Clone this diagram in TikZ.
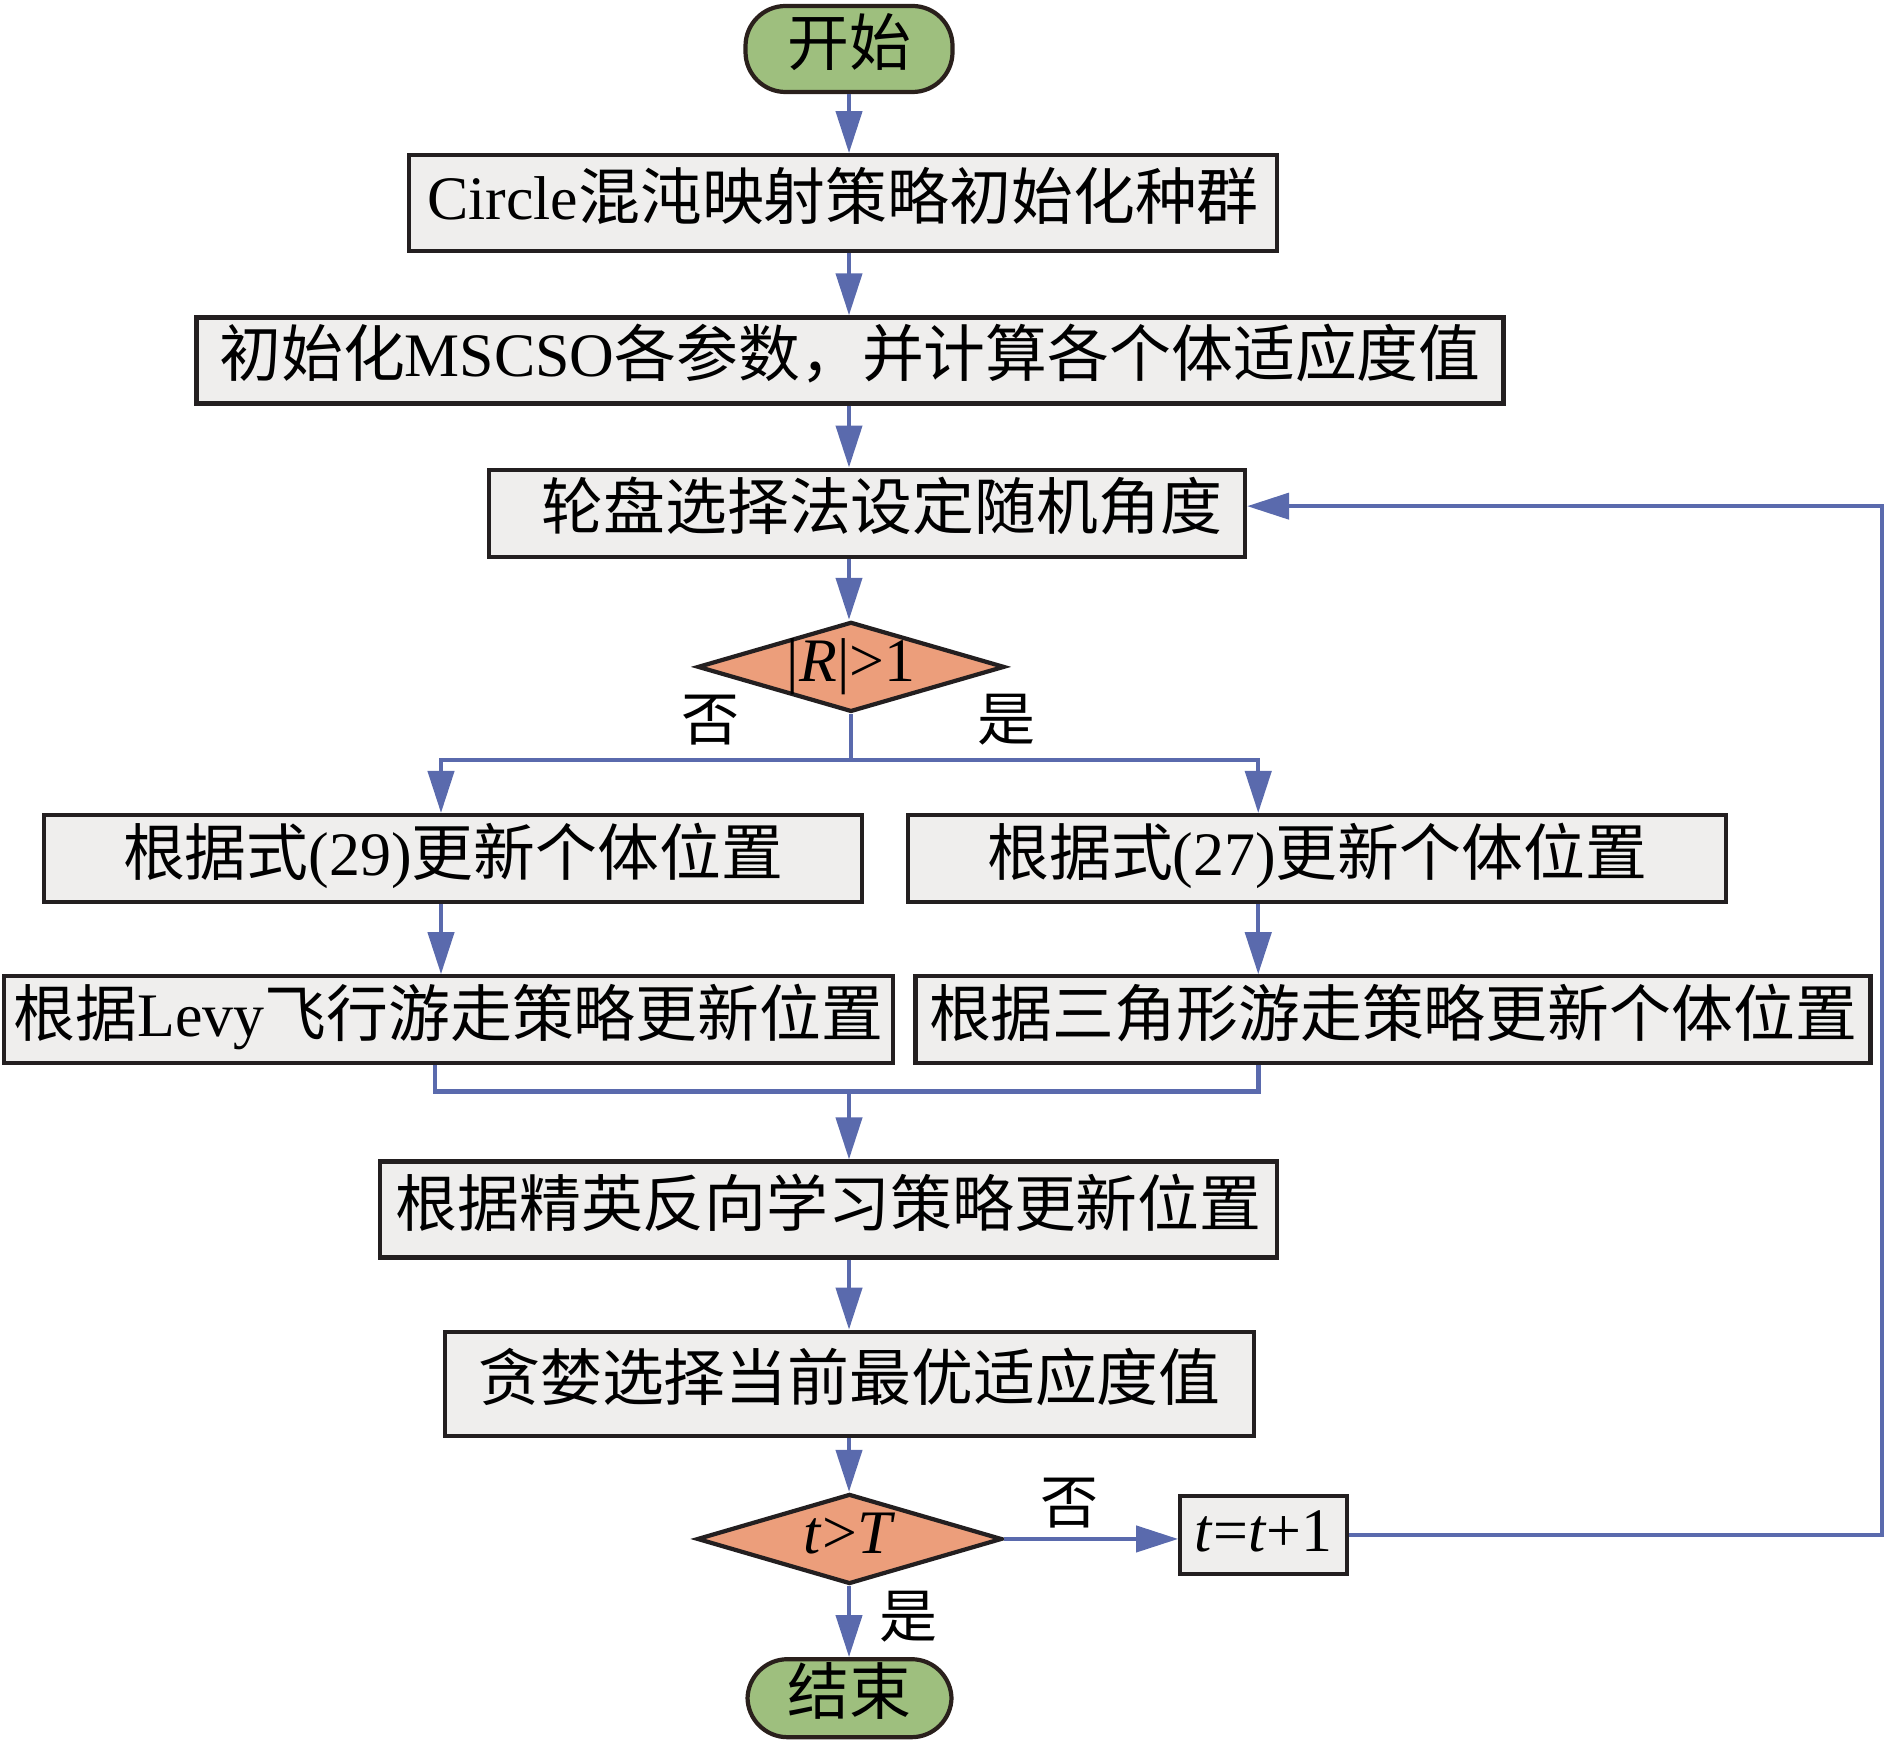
\documentclass[tikz,border=0pt]{standalone}
\usepackage{fontspec}
\setmainfont{Liberation Serif}
\newfontfamily\cjk{Noto Sans CJK SC}
\usepackage{tikz}
\usetikzlibrary{shapes.geometric,arrows.meta,positioning,calc}
\definecolor{flowblue}{HTML}{5A6AAD}
\definecolor{termgreen}{HTML}{9EBF7E}
\definecolor{termedge}{HTML}{2A201C}
\definecolor{boxgray}{HTML}{EFEEED}
\definecolor{boxedge}{HTML}{231F20}
\definecolor{decsalmon}{HTML}{EC9E7B}
\tikzset{
  txt/.style={font=\fontsize{17.6}{20}\selectfont,text height=0.45cm,text depth=0.12cm,
    inner ysep=0.08cm,inner xsep=0.1cm,align=center},
  terminal/.style={txt,rectangle,rounded corners=0.4cm,draw=termedge,fill=termgreen,
    line width=1.2pt,minimum width=#1},
  terminal/.default={2.07cm},
  process/.style={txt,rectangle,draw=boxedge,fill=boxgray,line width=1.2pt,
    minimum width=#1,minimum height=0.87cm},
  process/.default={8cm},
  decision/.style={txt,diamond,draw=boxedge,fill=decsalmon,line width=1.2pt,
    inner sep=0pt,text height=0.4cm,text depth=0.1cm,aspect=3.3,
    minimum width=3.07cm,minimum height=0.90cm},
  lab/.style={font=\cjk\fontsize{16.5}{18}\selectfont,inner sep=0pt},
  myline/.style={line width=1.2pt,flowblue},
  myarrow/.style={myline,-{Triangle[length=0.42cm,width=0.26cm]}},
}

\begin{document}
\begin{tikzpicture}
  \useasboundingbox (0,0) rectangle (18.86,-17.41);
  % main column
  \node[terminal=2.07cm,minimum height=0.86cm] (start) at (8.49,-0.49) {{\cjk 开始}};
  \node[process=8.68cm,minimum height=0.96cm,below=0.59cm of start,xshift=-0.06cm] (init) {Circle{\cjk 混沌映射策略初始化种群}};
  \node[process=13.07cm,minimum height=0.86cm,below=0.62cm of init,xshift=0.07cm] (param) {{\cjk 初始化}MSCSO{\cjk 各参数，并计算各个体适应度值}};
  \node[process=7.56cm,text width=7.1cm,align=right,below=0.62cm of param,xshift=0.17cm] (wheel) {{\cjk 轮盘选择法设定随机角度}\hspace*{0.1cm}};
  \node[decision,below=0.61cm of wheel,xshift=-0.16cm] (chkR) {|\textit{R}|>1};
  % two branches
  \node[process=8.18cm,below=0.99cm of chkR,xshift=-3.98cm] (upd29) {{\cjk 根据式}(29){\cjk 更新个体位置}};
  \node[process=8.18cm,right=0.42cm of upd29] (upd27) {{\cjk 根据式}(27){\cjk 更新个体位置}};
  \node[process=8.89cm,below=0.70cm of upd29,xshift=-0.045cm] (levy) {{\cjk 根据}Levy{\cjk 飞行游走策略更新位置}};
  \node[process=9.55cm,right=0.18cm of levy] (tri) {{\cjk 根据三角形游走策略更新个体位置}};
  % merge
  \node[process=8.97cm,minimum height=0.96cm,below=0.94cm of levy,xshift=3.80cm] (elite) {{\cjk 根据精英反向学习策略更新位置}};
  \node[process=8.09cm,minimum height=1.04cm,below=0.70cm of elite,xshift=0.21cm] (greedy) {{\cjk 贪婪选择当前最优适应度值}};
  \node[decision,minimum width=3.05cm,below=0.54cm of greedy] (chkT) {\textit{t}>\textit{T}};
  \node[process=1.67cm,minimum height=0.78cm,right=1.74cm of chkT,yshift=0.04cm] (incr) {\textit{t}=\textit{t}+1};
  \node[terminal=2.04cm,minimum height=0.78cm,below=0.71cm of chkT] (stop) {{\cjk 结束}};
  % labels
  \node[lab] (noR) at ([xshift=0.15cm,yshift=-0.53cm]chkR.west) {否};
  \node[lab] (yesR) at ([yshift=-0.53cm]chkR.east) {是};
  \node[lab] (noT) at ([xshift=0.65cm,yshift=0.36cm]chkT.east) {否};
  \node[lab] (yesT) at ([xshift=0.59cm,yshift=-0.31cm]chkT.south) {是};
  % connectors
  \coordinate (rail) at (18.82,0);
  \draw[myarrow] (start.south) -- (init.north -| start);
  \draw[myarrow] (init.south -| start) -- (param.north -| start);
  \draw[myarrow] (param.south -| start) -- (wheel.north -| start);
  \draw[myarrow] (wheel.south -| start) -- (chkR.north -| start);
  \coordinate[below=0.46cm of chkR.south] (fork);
  \draw[myline] (chkR.south) -- (fork);
  \draw[myarrow] (fork) -| ([xshift=-0.12cm]upd29.north);
  \draw[myarrow] (fork) -| ([xshift=-0.59cm]upd27.north);
  \draw[myarrow] ([xshift=-0.12cm]upd29.south) -- ([xshift=-0.12cm]upd29.south |- levy.north);
  \draw[myarrow] ([xshift=-0.59cm]upd27.south) -- ([xshift=-0.59cm]upd27.south |- tri.north);
  \coordinate (joinL) at ([xshift=-0.135cm,yshift=-0.26cm]levy.south);
  \coordinate (joinR) at ([xshift=-1.345cm,yshift=-0.26cm]tri.south);
  \draw[myline] ([xshift=-0.135cm]levy.south) -- (joinL) -- (joinR) -- ([xshift=-1.345cm]tri.south);
  \draw[myarrow] (joinL -| start) -- (elite.north -| start);
  \draw[myarrow] (elite.south -| start) -- (greedy.north -| start);
  \draw[myarrow] (greedy.south -| start) -- (chkT.north -| start);
  \draw[myarrow] (chkT.south -| start) -- (stop.north -| start);
  \draw[myarrow] (chkT.east) -- (chkT.east -| incr.west);
  \draw[myarrow] (incr.east) -- (incr.east -| rail) |- ([yshift=0.07cm]wheel.east);
\end{tikzpicture}
\end{document}
